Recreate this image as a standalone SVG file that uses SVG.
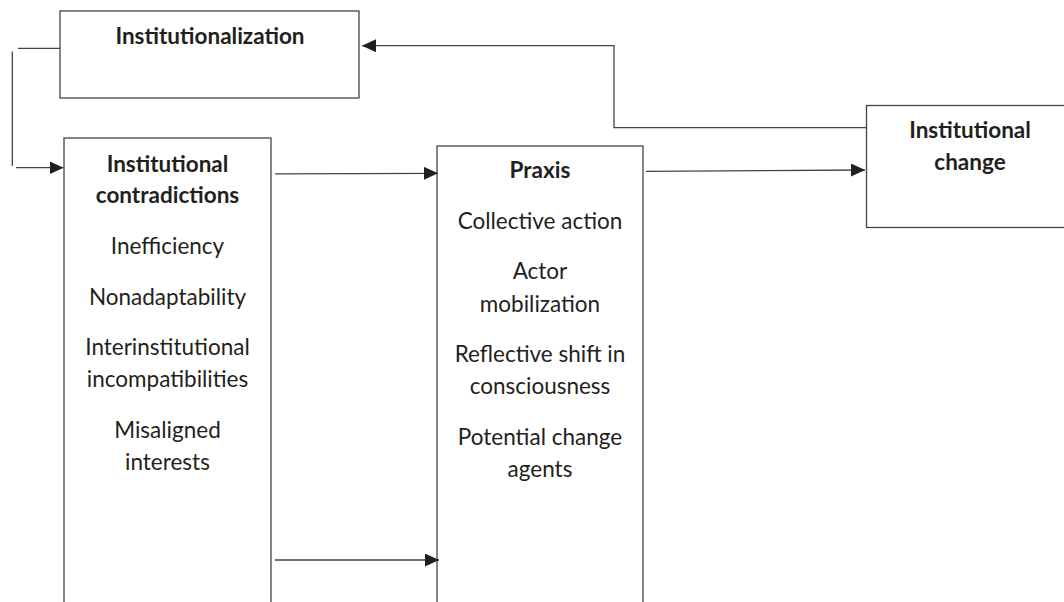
<svg xmlns="http://www.w3.org/2000/svg" width="1064" height="602" viewBox="0 0 1064 602">
<defs>
<style>
.box{fill:#fff;stroke:#444;stroke-width:1.3}
.ln{fill:none;stroke:#444;stroke-width:1.3}
.t{font-family:Lato,"Liberation Sans",sans-serif;font-size:22.5px;fill:#231f20;text-anchor:middle}
.b{font-weight:bold}
</style>
<marker id="ah" markerUnits="userSpaceOnUse" markerWidth="15" markerHeight="13" refX="14" refY="6.5" orient="auto">
<path d="M0,0 L14,6.5 L0,13 Z" fill="#231f20"/>
</marker>
</defs>
<rect width="1064" height="602" fill="#fff"/>
<g id="institutionalization">
<rect class="box" x="60" y="11" width="299" height="87"/>
<text class="t b" x="210" y="44">Institutionalization</text>
</g>
<g id="contradictions">
<rect class="box" x="64" y="138" width="207" height="480"/>
<text class="t b" x="167.5" y="172">Institutional</text>
<text class="t b" x="167.5" y="203">contradictions</text>
<text class="t" x="167.5" y="254">Inefficiency</text>
<text class="t" x="167.5" y="305">Nonadaptability</text>
<text class="t" x="167.5" y="355">Interinstitutional</text>
<text class="t" x="167.5" y="387">incompatibilities</text>
<text class="t" x="167.5" y="438">Misaligned</text>
<text class="t" x="167.5" y="470">interests</text>
</g>
<g id="praxis">
<rect class="box" x="437" y="146" width="206" height="480"/>
<text class="t b" x="540" y="178">Praxis</text>
<text class="t" x="540" y="229">Collective action</text>
<text class="t" x="540" y="279">Actor</text>
<text class="t" x="540" y="312">mobilization</text>
<text class="t" x="540" y="362">Reflective shift in</text>
<text class="t" x="540" y="394">consciousness</text>
<text class="t" x="540" y="445">Potential change</text>
<text class="t" x="540" y="477">agents</text>
</g>
<g id="change">
<rect class="box" x="866.5" y="105.5" width="220" height="122"/>
<text class="t b" x="970" y="138">Institutional</text>
<text class="t b" x="970" y="170">change</text>
</g>
<g id="connectors">
<path class="ln" d="M60,48.3 L18,48.3"/>
<path class="ln" d="M12.3,51.5 L12.3,166"/>
<path class="ln" d="M16,167.7 L63.5,167.7" marker-end="url(#ah)"/>
<path class="ln" d="M275,173.8 L438,173.3" marker-end="url(#ah)"/>
<path class="ln" d="M275,560 L439,560" marker-end="url(#ah)"/>
<path class="ln" d="M646,171.3 L865,170" marker-end="url(#ah)"/>
<path class="ln" d="M866,127.7 L614,127.7 L614,45.7 L362,45.7" marker-end="url(#ah)"/>
</g>
</svg>
